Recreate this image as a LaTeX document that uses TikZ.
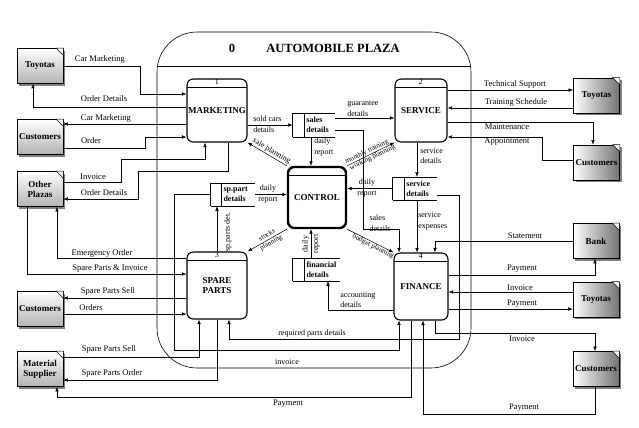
\documentclass[tikz,border=0pt]{standalone}
\usepackage{fontspec}
\setmainfont{Liberation Serif}
\usetikzlibrary{arrows.meta,shadows}

\tikzset{
  proc/.style={draw, line width=1.1pt, rounded corners=0.22cm, align=center, inner sep=1pt,
    font=\fontsize{9}{10.5}\selectfont\bfseries,
    path picture={\draw[line width=0.5pt] ([yshift=-0.3cm]path picture bounding box.north west)
      -- ([yshift=-0.3cm]path picture bounding box.north east);}},
  num/.style={anchor=north, inner sep=0.5pt, font=\fontsize{8}{8}\selectfont},
  ent/.style={draw, line width=0.6pt, minimum width=1.61cm, minimum height=1.225cm, inner sep=0.5pt,
    align=center, font=\fontsize{9}{10}\selectfont\bfseries, top color=white, bottom color=black!30,
    drop shadow={opacity=1, shadow xshift=0.07cm, shadow yshift=-0.07cm}},
  entdark/.style={ent, left color=white, right color=black!55},
  store/.style={inner xsep=1.5pt, inner ysep=0pt, align=left, font=\fontsize{8}{9.5}\selectfont\bfseries},
  flow/.style={inner sep=1pt, font=\fontsize{8.5}{9}\selectfont},
  lbl/.style={inner sep=1pt, font=\fontsize{8}{10.5}\selectfont},
  tiny/.style={inner sep=0.3pt, font=\fontsize{7}{7.5}\selectfont}
}

\begin{document}
\begin{tikzpicture}[x=0.035cm, y=-0.035cm, line width=0.5pt, >={Latex[length=4.5pt,width=3.5pt]}]
  \useasboundingbox (0,0) rectangle (639,427);

  % the plaza itself
  \node[draw, line width=0.6pt, rounded corners=1.4cm, minimum width=10.99cm, minimum height=11.76cm] (plaza) at (314,200) {};
  \draw[line width=0.6pt] (plaza.west |- 0,66) -- (plaza.east |- 0,66);
  \node[font=\fontsize{12.5}{14}\selectfont\bfseries] (zero) at (232,48) {0};
  \node[font=\fontsize{12.5}{14}\selectfont\bfseries] (title) at (333,48) {AUTOMOBILE PLAZA};

  % processes
  \node[proc, minimum width=2.1cm, minimum height=2.205cm, label={[num]north:1}] (mkt) at (217,110.5) {MARKETING};
  \node[proc, minimum width=1.82cm, minimum height=2.205cm, label={[num]north:2}] (srv) at (421,110.5) {SERVICE};
  \node[proc, line width=2.4pt, minimum width=2.03cm, minimum height=2.135cm] (ctl) at (317,197.5) {CONTROL};
  \node[proc, minimum width=2.1cm, minimum height=2.345cm, label={[num]north:3}] (spp) at (217,285.5) {SPARE\\PARTS};
  \node[proc, minimum width=1.89cm, minimum height=2.345cm, label={[num]north:4}] (fnc) at (421,286.5) {FINANCE};

  % data stores
  \node[store, text width=0.95cm, minimum height=0.84cm] (sales) at (320,125) {sales\\details};
  \node[store, text width=1.05cm, minimum height=0.805cm] (sppart) at (238.5,194.5) {sp.part\\details};
  \node[store, text width=1.02cm, minimum height=0.805cm] (servd) at (421,188.5) {service\\details};
  \node[store, text width=1.12cm, minimum height=0.805cm] (fin) at (322.5,269.5) {financial\\details};
  \foreach \s/\w in {sales/0.42cm, sppart/0.385cm, servd/0.42cm, fin/0.42cm} {
    \draw ([xshift=-\w]\s.north west) -- (\s.north east)
          ([xshift=-\w]\s.south west) -- (\s.south east)
          ([xshift=-\w]\s.north west) -- ([xshift=-\w]\s.south west)
          (\s.north west) -- (\s.south west);
  }

  % external entities
  \node[ent] (toyL) at (40,66) {Toyotas};
  \node[ent] (cusL1) at (40,137) {Customers};
  \node[ent] (oth) at (40,189) {Other\\Plazas};
  \node[ent] (cusL2) at (40,309) {Customers};
  \node[ent] (mat) at (40,369) {Material\\Supplier};
  \node[entdark] (toyR1) at (596.5,95.5) {Toyotas};
  \node[entdark] (cusR1) at (596.5,162.5) {Customers};
  \node[entdark] (bank) at (596,241) {Bank};
  \node[entdark] (toyR2) at (596,299.5) {Toyotas};
  \node[entdark] (cusR2) at (596,369) {Customers};
  \foreach \x in {toyL,cusL1,oth,cusL2,mat,toyR1,cusR1,bank,toyR2,cusR2} {
    \draw[fill=white] ([xshift=-0.25cm]\x.north east) -- ([yshift=-0.25cm]\x.north east) -- (\x.north east) -- cycle;
  }

  % marketing flows
  \draw[->] (toyL.east |- 0,66) -- (140,66) -- (140,94) -- (mkt.west |- 0,94);
  \draw[->] (mkt.west |- 0,107) -- (33,107) -- (toyL.south -| 33,0);
  \draw[->] (mkt.west |- 0,124) -- (cusL1.east |- 0,124);
  \draw[->] (cusL1.east |- 0,148) -- (145,148) -- (145,137) -- (mkt.west |- 0,137);
  \draw[->] (oth.east |- 0,182) -- (121,182) -- (121,159) -- (205,159) -- (mkt.south -| 205,0);
  \draw[->] (mkt.south -| 228,0) -- (228,171) -- (138,171) -- (138,199) -- (oth.east |- 0,199);
  \node[flow] (l1) at (100,59) {Car Marketing};
  \node[flow] (l2) at (104,99) {Order Details};
  \node[flow] (l3) at (106,118) {Car Marketing};
  \node[flow] (l4) at (91,141) {Order};
  \node[flow] (l5) at (93,177) {Invoice};
  \node[flow] (l6) at (104,193) {Order Details};

  % spare parts flows
  \draw[->] (spp.west |- 0,258) -- (57,258) -- (oth.south -| 57,0);
  \draw[->] (oth.south -| 27,0) -- (27,274) -- (spp.west |- 0,274);
  \draw[->] (spp.west |- 0,298) -- (cusL2.east |- 0,298);
  \draw[->] (cusL2.east |- 0,314) -- (spp.west |- 0,314);
  \draw[->] (mat.east |- 0,357) -- (199,357) -- (spp.south -| 199,0);
  \draw[->] (spp.south -| 217,0) -- (217,380) -- (mat.east |- 0,380);
  \draw[->] (fnc.south -| 411,0) -- (411,397) -- (57,397) -- (mat.south -| 57,0);
  \node[flow] (l7) at (102,253) {Emergency Order};
  \node[flow] (l8) at (110,269) {Spare Parts \& Invoice};
  \node[flow] (l9) at (108,291) {Spare Parts Sell};
  \node[flow] (l10) at (91,308) {Orders};
  \node[flow] (l11) at (109,349) {Spare Parts Sell};
  \node[flow] (l12) at (112,373) {Spare Parts Order};
  \node[flow] (l13) at (288,404) {Payment};

  % inside the plaza
  \draw[->] (mkt.east |- 0,125) -- ([xshift=-0.42cm]sales.west);
  \draw[->] (sales.east |- 0,118) -- (srv.west |- 0,118);
  \draw[->] (sales.south -| 311,0) -- (ctl.north -| 311,0);
  \draw[->] (sales.east |- 0,130) -- (363,130) -- (363,229) -- (399,229) -- (fnc.north -| 399,0);
  \draw[->] (srv.south -| 417,0) -- (servd.north -| 417,0);
  \draw[->] ([xshift=-0.42cm]servd.west) -- (ctl.east |- servd.west);
  \draw[->] (servd.south -| 417,0) -- (fnc.north -| 417,0);
  \draw[->] (servd.east |- 0,195) -- (459,195) -- (459,339) -- (229,339) -- (spp.south -| 229,0);
  \draw[->] (sppart.east) -- (ctl.west |- sppart.east);
  \draw[->] (spp.north -| 217,0) -- (sppart.south -| 217,0);
  \draw[->] ([xshift=-0.385cm]sppart.west) -| (174,350) -- (399,350) -- (fnc.south -| 399,0);
  \draw[->] (fin.north -| 311,0) -- (ctl.south -| 311,0);
  \draw[->] (fnc.west |- 0,310) -- (328,310) -- (fin.south -| 328,0);
  \draw[->] (ctl.north west) -- (mkt.south east) node[pos=0.45, sloped, above, lbl] (l14) {sale planning};
  \draw[->] (ctl.north east) -- (srv.south west)
    node[pos=0.45, sloped, above, tiny] (l15) {monthly training}
    node[pos=0.5, sloped, below, tiny] (l16) {working planning};
  \draw[->] (ctl.south west) -- (spp.north east) node[pos=0.45, sloped, tiny, align=center] (l17) {stocks\\[1pt]planning};
  \draw[->] (ctl.south east) -- (fnc.north west) node[pos=0.6, sloped, below, tiny] (l18) {budget planning};
  \node[lbl, anchor=west, align=left] (l19) at (252,124) {sold cars\\details};
  \node[lbl, anchor=west, align=left] (l20) at (346,109) {guarantee\\details};
  \node[lbl, anchor=west, align=left] (l21) at (313,147) {daily\\report};
  \node[lbl, anchor=west, align=left] (l22) at (419,156) {service\\details};
  \node[lbl, align=center] (l23) at (367,188) {daily\\report};
  \node[lbl, anchor=west, align=left] (l24) at (417,221) {service\\expenses};
  \node[lbl, align=center] (l25) at (268,194) {daily\\report};
  \node[lbl, rotate=90] (l26) at (228,232) {sp.parts det.};
  \node[lbl, rotate=90, align=center] (l27) at (311,244) {daily\\report};
  \node[lbl, align=left] (l28) at (380,223) {sales\\details};
  \node[lbl, anchor=west, align=left] (l29) at (339,300) {accounting\\details};
  \node[lbl] (l30) at (312,334) {required parts details};
  \node[lbl] (l31) at (287,362) {invoice};

  % service flows
  \draw[->] (srv.east |- 0,90) -- (toyR1.west |- 0,90);
  \draw[->] (toyR1.west |- 0,108) -- (srv.east |- 0,108);
  \draw[->] (srv.east |- 0,122) -- (593,122) -- (cusR1.north -| 593,0);
  \draw[->] (cusR1.west |- 0,160) -- (542,160) -- (542,137) -- (srv.east |- 0,137);
  \node[flow] (l32) at (515,84) {Technical Support};
  \node[flow] (l33) at (516,102) {Training Schedule};
  \node[flow] (l34) at (507,127) {Maintenance};
  \node[flow] (l35) at (507,142) {Appointment};

  % finance flows
  \draw[->] (bank.west |- 0,241) -- (435,241) -- (fnc.north -| 435,0);
  \draw[->] (fnc.east |- 0,275) -- (595,275) -- (bank.south -| 595,0);
  \draw[->] (toyR2.west |- 0,292) -- (fnc.east |- 0,292);
  \draw[->] (fnc.east |- 0,309) -- (toyR2.west |- 0,309);
  \draw[->] (fnc.south -| 435,0) -- (435,333) -- (595,333) -- (cusR2.north -| 595,0);
  \draw[->] (cusR2.south -| 595,0) -- (595,414) -- (423,414) -- (fnc.south -| 423,0);
  \node[flow] (l36) at (525,236) {Statement};
  \node[flow] (l37) at (522,269) {Payment};
  \node[flow] (l38) at (520,288) {Invoice};
  \node[flow] (l39) at (522,304) {Payment};
  \node[flow] (l40) at (522,339) {Invoice};
  \node[flow] (l41) at (524,408) {Payment};
\end{tikzpicture}
\end{document}
